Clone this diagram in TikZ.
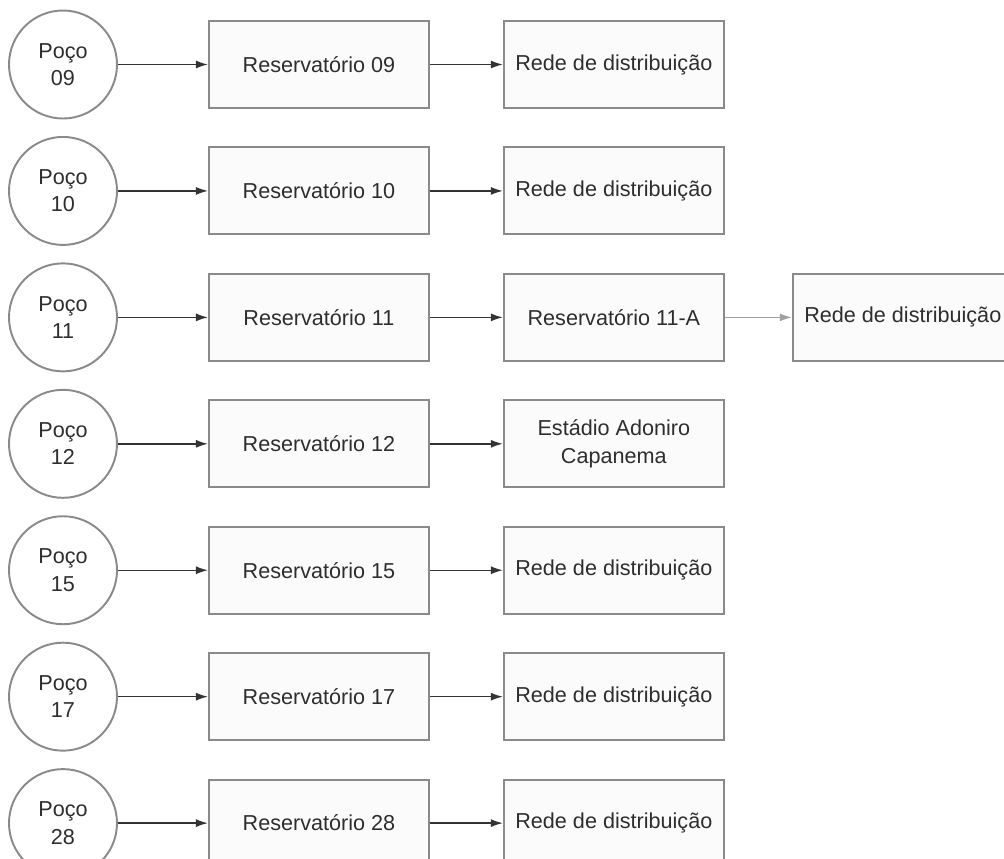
\documentclass[tikz,border=0pt]{standalone}
\usepackage{fontspec}
\setmainfont{Liberation Sans}
\usepackage{xcolor}
\usetikzlibrary{positioning, arrows.meta}
\definecolor{wlgray}{HTML}{8A8A8A}
\definecolor{wltext}{HTML}{2E2E2E}
\definecolor{wlfill}{HTML}{FBFBFB}
\definecolor{wlarrow}{HTML}{333333}

\begin{document}
\begin{tikzpicture}[
  poco/.style={
    circle, draw=wlgray, fill=white, line width=1.1pt,
    minimum size=2.16cm, inner sep=0pt,
    font=\fontsize{12.3}{15.5}\selectfont, text=wltext, align=center
  },
  caixa/.style={
    rectangle, draw=wlgray, fill=wlfill, line width=1.1pt,
    minimum width=4.4cm, minimum height=1.74cm, inner sep=0pt,
    font=\fontsize{12.3}{15.5}\selectfont, text=wltext, align=center
  },
  arr/.style={-{Latex[length=2.4mm, width=1.6mm]}, line width=0.8pt, color=wlarrow},
  arrclaro/.style={arr, color=wlgray!80},
]
\useasboundingbox (0,0) rectangle (20.08,-17.16);

% Pocos (circulos)
\node[poco] (p09) at (1.26,-1.29) {Poço\\09};
\node[poco, below=0.33cm of p09] (p10) {Poço\\10};
\node[poco, below=0.33cm of p10] (p11) {Poço\\11};
\node[poco, below=0.33cm of p11] (p12) {Poço\\12};
\node[poco, below=0.33cm of p12] (p15) {Poço\\15};
\node[poco, below=0.33cm of p15] (p17) {Poço\\17};
\node[poco, below=0.33cm of p17] (p28) {Poço\\28};

% Reservatorios
\node[caixa, right=1.8cm of p09] (r09) {Reservatório 09};
\node[caixa, right=1.8cm of p10] (r10) {Reservatório 10};
\node[caixa, right=1.8cm of p11] (r11) {Reservatório 11};
\node[caixa, right=1.8cm of p12] (r12) {Reservatório 12};
\node[caixa, right=1.8cm of p15] (r15) {Reservatório 15};
\node[caixa, right=1.8cm of p17] (r17) {Reservatório 17};
\node[caixa, right=1.8cm of p28] (r28) {Reservatório 28};

% Destinos
\node[caixa, right=1.46cm of r09] (d09) {Rede de distribuição};
\node[caixa, right=1.46cm of r10] (d10) {Rede de distribuição};
\node[caixa, right=1.46cm of r11] (r11a) {Reservatório 11-A};
\node[caixa, right=1.46cm of r12] (d12) {Estádio Adoniro\\Capanema};
\node[caixa, right=1.46cm of r15] (d15) {Rede de distribuição};
\node[caixa, right=1.46cm of r17] (d17) {Rede de distribuição};
\node[caixa, right=1.46cm of r28] (d28) {Rede de distribuição};
\node[caixa, right=1.34cm of r11a] (d11) {Rede de distribuição};

% Setas
\draw[arr] (p09) -- (r09);
\draw[arr] (p10) -- (r10);
\draw[arr] (p11) -- (r11);
\draw[arr] (p12) -- (r12);
\draw[arr] (p15) -- (r15);
\draw[arr] (p17) -- (r17);
\draw[arr] (p28) -- (r28);
\draw[arr] (r09) -- (d09);
\draw[arr] (r10) -- (d10);
\draw[arr] (r11) -- (r11a);
\draw[arr] (r12) -- (d12);
\draw[arr] (r15) -- (d15);
\draw[arr] (r17) -- (d17);
\draw[arr] (r28) -- (d28);
\draw[arrclaro] (r11a) -- (d11);
\end{tikzpicture}
\end{document}
